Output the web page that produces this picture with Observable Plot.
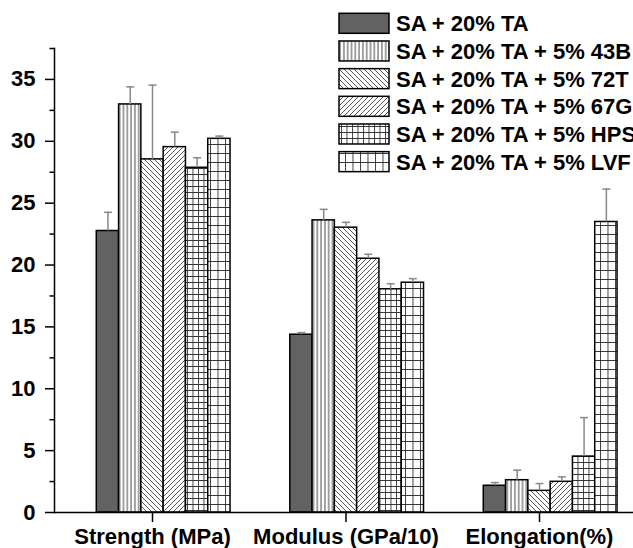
<!DOCTYPE html>
<html>
<head>
<meta charset="utf-8">
<script src="https://cdn.jsdelivr.net/npm/d3@7"></script>
<script src="https://cdn.jsdelivr.net/npm/@observablehq/plot@0.6"></script>
<style>
  html, body { margin: 0; padding: 0; background: #fff; }
  #wrap { position: relative; width: 633px; height: 548px; overflow: hidden; font-family: "Liberation Sans", Arial, sans-serif; }
  #legend { position: absolute; left: 0; top: 0; pointer-events: none; }
</style>
</head>
<body>
<div id="wrap"></div>
<script>
// ---- data ----
const categories = ["Strength (MPa)", "Modulus (GPa/10)", "Elongation(%)"];
const series = [
  "SA + 20% TA",
  "SA + 20% TA + 5% 43B",
  "SA + 20% TA + 5% 72T",
  "SA + 20% TA + 5% 67G",
  "SA + 20% TA + 5% HPS",
  "SA + 20% TA + 5% LVF"
];
const strength      = [22.75, 32.98, 28.54, 29.53, 27.86, 30.20];
const strengthErr   = [1.51, 1.42, 6.00, 1.21, 0.81, 0.22];
const modulus       = [14.37, 23.61, 23.02, 20.51, 18.04, 18.57];
const modulusErr    = [0.17, 0.89, 0.43, 0.36, 0.45, 0.33];
const elongation    = [2.16, 2.61, 1.75, 2.48, 4.52, 23.48];
const elongationErr = [0.26, 0.81, 0.59, 0.40, 3.15, 2.66];
const yTicks = [0, 5, 10, 15, 20, 25, 30, 35];
const yMinorTicks = [2.5, 7.5, 12.5, 17.5, 22.5, 27.5, 32.5, 37.5];

const values = [strength, modulus, elongation];
const errors = [strengthErr, modulusErr, elongationErr];
const rows = [];
categories.forEach((c, ci) => series.forEach((s, si) =>
  rows.push({ci, si, cat: c, series: s, value: values[ci][si], err: errors[ci][si]})));

// ---- styles ----
const fills = ["#626262", "url(#pVert)", "url(#pBack)", "url(#pFwd)", "url(#pFine)", "url(#pCoarse)"];
const barW = 0.1152; // bar width as a fraction of category spacing
const font = "'Liberation Sans', Arial, sans-serif";

const capSymbol = {
  draw(ctx, size) {
    const r = Math.sqrt(size / Math.PI);
    ctx.moveTo(-r, 0); ctx.lineTo(r, 0);
  }
};
const minorTickSymbol = {
  draw(ctx, size) {
    const r = Math.sqrt(size / Math.PI);
    ctx.moveTo(-r, 0); ctx.lineTo(0, 0);
  }
};

const wrap = document.getElementById("wrap");

// legend + pattern defs
const lsvg = d3.create("svg").attr("id", "legend").attr("width", 633).attr("height", 190);
const defs = lsvg.append("defs");
function pat(id, w, h, d, sw) {
  const p = defs.append("pattern").attr("id", id).attr("patternUnits", "userSpaceOnUse")
    .attr("width", w).attr("height", h);
  p.append("rect").attr("width", w).attr("height", h).attr("fill", "#fff");
  p.append("path").attr("d", d).attr("stroke", "#2a2a2a").attr("stroke-width", sw).attr("fill", "none");
}
pat("pVert", 3.8, 10, "M1.9,0V10", 0.9);
pat("pBack", 5, 5, "M0,0L5,5M-1,4L1,6M4,-1L6,1", 0.8);
pat("pFwd", 5, 5, "M0,5L5,0M-1,1L1,-1M4,6L6,4", 0.8);
pat("pFine", 5.5, 6, "M0,0.5H5.5M0.5,0V6", 0.9);
pat("pCoarse", 7.5, 9, "M0,0.5H7.5M0.5,0V9", 0.9);

series.forEach((s, i) => {
  const top = 13.3 + i * 27.67;
  lsvg.append("rect").attr("x", 339).attr("y", top).attr("width", 50).attr("height", 20)
    .attr("fill", fills[i]).attr("stroke", "#000").attr("stroke-width", 1.5);
  lsvg.append("text").attr("x", 396).attr("y", top + 10).attr("dy", "0.36em")
    .attr("font-family", font).attr("font-weight", "bold").attr("font-size", 22)
    .attr("fill", "#000").text(s);
});

const xOf = d => d.ci + (d.si - 2) * barW;

const chart = Plot.plot({
  width: 633,
  height: 548,
  marginLeft: 54,
  marginRight: 0,
  marginTop: 48,
  marginBottom: 36,
  style: {fontFamily: font, background: "#fff", color: "#000"},
  x: {domain: [-0.5065, 2.4858]},
  y: {domain: [0, 37.5]},
  marks: [
    ...series.map((s, si) => Plot.rect(rows.filter(d => d.si === si), {
      x1: d => d.ci + (d.si - 2.5) * barW,
      x2: d => d.ci + (d.si - 1.5) * barW,
      y1: 0,
      y2: "value",
      fill: fills[si],
      stroke: "#000",
      strokeWidth: 1.5
    })),
    Plot.ruleX(rows, {x: xOf, y1: "value", y2: d => d.value + d.err, stroke: "#888", strokeWidth: 1.5}),
    Plot.dot(rows, {x: xOf, y: d => d.value + d.err, symbol: capSymbol, r: 4, stroke: "#888", strokeWidth: 1.5, fill: "none"}),
    Plot.axisY(yTicks, {tickSize: 9, tickPadding: 10, fontSize: 22, fontWeight: "bold", strokeWidth: 1.5, label: null}),
    Plot.dot(yMinorTicks, {y: d => d, frameAnchor: "left", symbol: minorTickSymbol, r: 5, stroke: "#000", strokeWidth: 1.5, fill: "none"}),
    Plot.axisX([0, 1, 2], {tickSize: 10, tickPadding: 6, tickFormat: i => categories[i], fontSize: 22, fontWeight: "bold", strokeWidth: 1.5, label: null}),
    Plot.frame({anchor: "left", strokeWidth: 1.5}),
    Plot.frame({anchor: "bottom", strokeWidth: 1.5})
  ]
});
wrap.appendChild(chart);
wrap.appendChild(lsvg.node());
</script>
</body>
</html>
